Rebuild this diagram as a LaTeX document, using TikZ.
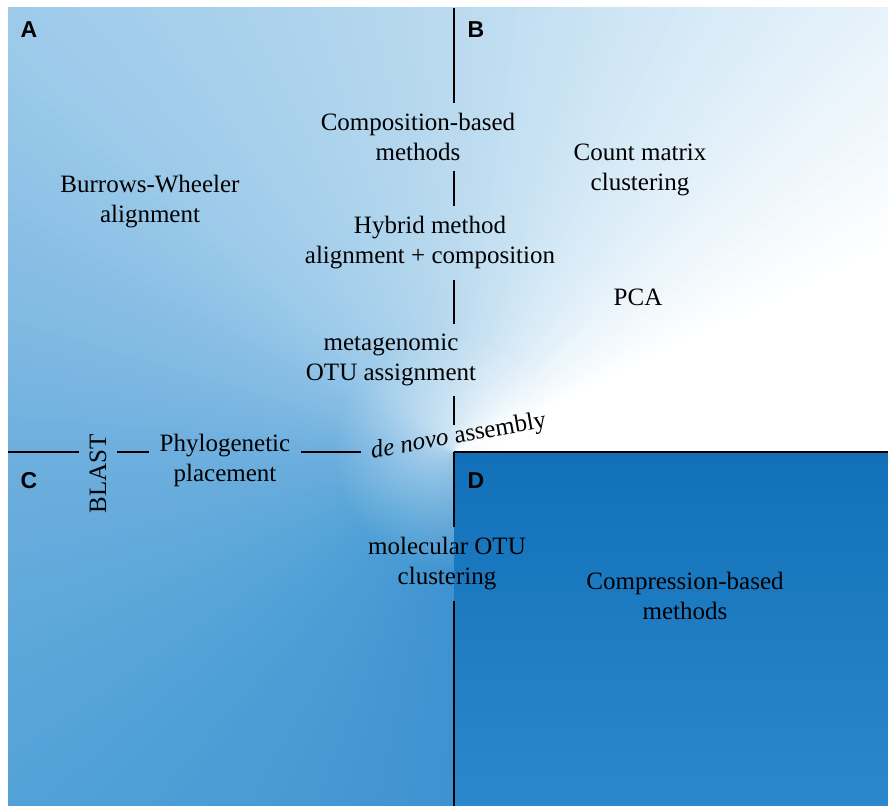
\documentclass[tikz,border=0pt]{standalone}
\usepackage{fontspec}
\setmainfont{Liberation Serif}
\newfontfamily\panelfont{Liberation Sans}
\usetikzlibrary{calc,fadings}

\definecolor{bgPale}{HTML}{DCEDF8}
\definecolor{bgTop}{HTML}{BADAEF}
\definecolor{bgTL}{HTML}{9ECBEA}
\definecolor{bgLeft}{HTML}{6EAFDE}
\definecolor{bgBL}{HTML}{4EA0D6}
\definecolor{bgBot}{HTML}{3E92D0}
\definecolor{boxTop}{HTML}{1170B9}
\definecolor{boxBot}{HTML}{2C88CC}

\tikzfading[name=glowfade, inner color=transparent!50, outer color=transparent!100]

\begin{document}
\begin{tikzpicture}[
        x=0.5pt, y=-0.5pt,
        lbl/.style={font=\fontsize{12.5}{15}\selectfont, align=center, inner xsep=5pt, inner ysep=5pt},
        panel/.style={font=\panelfont\bfseries\fontsize{11.5}{13}\selectfont, inner sep=0pt},
        axisline/.style={line width=1.3pt, black},
    ]
    \useasboundingbox (0,0) rectangle (888,806);
    \coordinate (ctr) at (454,452);
    \coordinate (vtop) at (454,8);
    \coordinate (vmid) at (454,425);
    \coordinate (vbot) at (454,806);
    \coordinate (hleft) at (8,452);
    \coordinate (hright) at (888,452);

    % shaded background, swept round the centre
    \begin{scope}
        \clip (8,8) rectangle (888,806);
        \fill[bgBot] (8,8) rectangle (888,806);
        \foreach \a/\b/\ca/\cb in {0/25/white/white, 25/55/white/bgPale, 55/90/bgPale/bgTop,
                90/135/bgTop/bgTL, 135/180/bgTL/bgLeft, 180/225/bgLeft/bgBL, 225/270/bgBL/bgBot}{
            \foreach \i in {0,...,29}{
                \pgfmathsetmacro\angA{\a+(\b-\a)*\i/30}
                \pgfmathsetmacro\angB{\a+(\b-\a)*(\i+1)/30+0.6}
                \pgfmathsetmacro\mix{100*(\i+0.5)/30}
                \fill[\cb!\mix!\ca] (ctr) -- ($(ctr)+(-\angA:1400)$) -- ($(ctr)+(-\angB:1400)$) -- cycle;
            }
        }
        \fill[white, path fading=glowfade] (ctr) circle (120);
        \shade[top color=boxTop, bottom color=boxBot] (ctr) rectangle (888,806);
    \end{scope}

    \node[panel] (pa) at (29,30) {A};
    \node[panel] (pb) at (476,30) {B};
    \node[panel] (pc) at (29,481) {C};
    \node[panel] (pd) at (476,481) {D};

    \node[lbl] (comp) at (418,137) {Composition-based\\methods};
    \node[lbl] (bw) at (150,202) {Burrows-Wheeler\\alignment};
    \node[lbl] (count) at (640,170) {Count matrix\\clustering};
    \node[lbl] (hybrid) at (430,243) {Hybrid method\\alignment + composition};
    \node[lbl] (pca) at (638,297) {PCA};
    \node[lbl] (meta) at (391,360) {metagenomic\\OTU assignment};
    \node[lbl] (phylo) at (225,460) {Phylogenetic\\placement};
    \node[lbl, rotate=90] (blast) at (98,474) {BLAST};
    \node[lbl, rotate=10, anchor=base west] (denovo) at (362,460) {\textit{de novo} assembly};
    \node[lbl] (molotu) at (447,564) {molecular OTU\\clustering};
    \node[lbl] (compr) at (685,596) {Compression-based\\methods};

    \draw[axisline] (vtop) -- (vtop |- comp.north);
    \draw[axisline] (vtop |- comp.south) -- (vtop |- hybrid.north);
    \draw[axisline] (vtop |- hybrid.south) -- (vtop |- meta.north);
    \draw[axisline] (vtop |- meta.south) -- (vmid);
    \draw[axisline] (ctr) -- (vtop |- molotu.north);
    \draw[axisline] (vtop |- molotu.south) -- (vbot);

    \draw[axisline] (hleft) -- (blast.north |- hleft);
    \draw[axisline] (blast.south |- hleft) -- (phylo.west |- hleft);
    \draw[axisline] (phylo.east |- hleft) -- (denovo.west |- hleft);
    \draw[axisline] (ctr) -- (hright);

\end{tikzpicture}
\end{document}
